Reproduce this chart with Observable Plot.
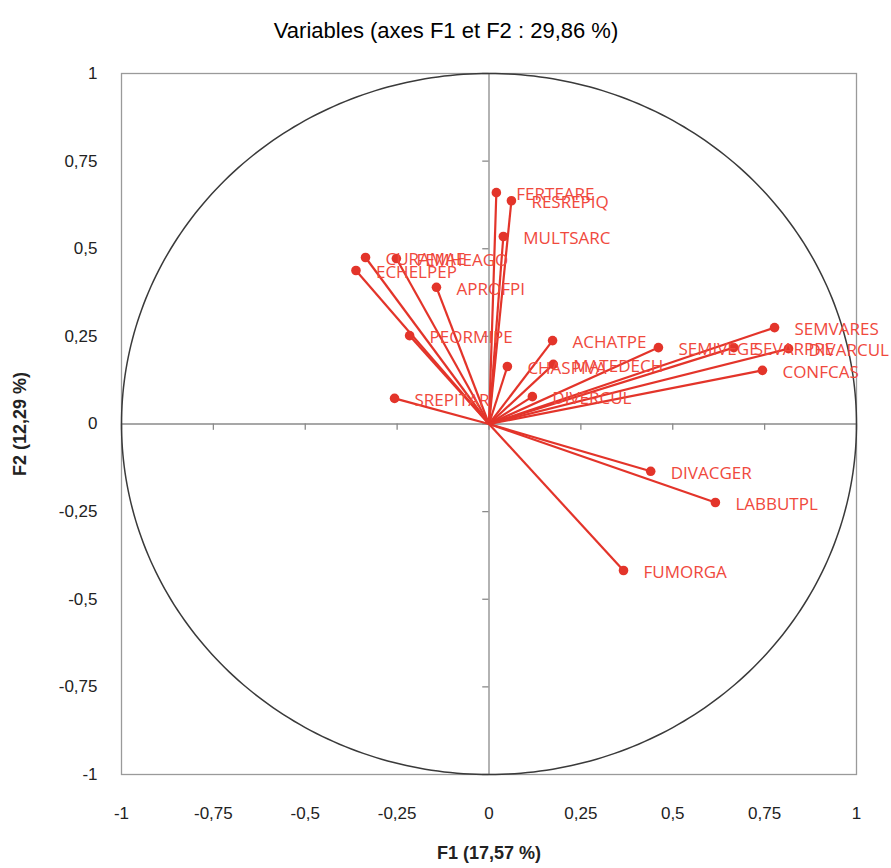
<!DOCTYPE html>
<html><head><meta charset="utf-8">
<script src="https://cdn.jsdelivr.net/npm/d3@7"></script>
<script src="https://cdn.jsdelivr.net/npm/@observablehq/plot@0.6"></script>
<style>body{margin:0;background:#fff}</style>
</head><body><div id="chart"></div>
<script>
const names = ["FERTEARE","RESREPIQ","MULTSARC","CURAMAE","FEMHEAGO","ECHELPEP","APROFPI","PEORMIPE","SREPITAR","ACHATPE","CHASPIVA","MATEDECH","DIVERCUL","SEMIVEGE","SEVARPRE","SEMVARES","DIVARCUL","CONFCAS","DIVACGER","LABBUTPL","FUMORGA"];
const f1 = [0.020, 0.061, 0.039, -0.336, -0.252, -0.362, -0.143, -0.216, -0.257, 0.173, 0.050, 0.175, 0.118, 0.461, 0.666, 0.777, 0.815, 0.744, 0.440, 0.616, 0.366];
const f2 = [0.660, 0.637, 0.535, 0.475, 0.472, 0.438, 0.390, 0.252, 0.073, 0.238, 0.164, 0.170, 0.078, 0.218, 0.218, 0.275, 0.215, 0.153, -0.135, -0.224, -0.418];
const ticks = [-1, -0.75, -0.5, -0.25, 0, 0.25, 0.5, 0.75, 1];
const title = "Variables (axes F1 et F2 : 29,86 %)";
const xTitle = "F1 (17,57 %)";
const yTitle = "F2 (12,29 %)";

const data = names.map((n, i) => ({name: n, f1: f1[i], f2: f2[i]}));
const circle = d3.range(0, 361, 1).map(a => ({x: Math.cos(a * Math.PI / 180), y: Math.sin(a * Math.PI / 180)}));
const fmt = d => String(d).replace(".", ",");
const red = "#e3342a";
const labelRed = "#f0493d";
const sans = "Liberation Sans, Arial, sans-serif";

const chart = Plot.plot({
  width: 891,
  height: 868,
  marginLeft: 121,
  marginRight: 35,
  marginTop: 73,
  marginBottom: 94,
  style: {background: "#fff", overflow: "visible"},
  x: {domain: [-1, 1]},
  y: {domain: [-1, 1]},
  marks: [
    Plot.frame({stroke: "#9a9a9a", strokeWidth: 1.3}),
    Plot.ruleY([0], {stroke: "#8a8a8a", strokeWidth: 1.3}),
    Plot.ruleX([0], {stroke: "#8a8a8a", strokeWidth: 1.3}),
    Plot.ruleX(ticks, {x: d => d, y1: 0, y2: -0.018, stroke: "#8a8a8a", strokeWidth: 1.3}),
    Plot.ruleY(ticks, {y: d => d, x1: -0.017, x2: 0, stroke: "#8a8a8a", strokeWidth: 1.3}),
    Plot.line(circle, {x: "x", y: "y", stroke: "#3a3a3a", strokeWidth: 1.5}),
    Plot.axisX(ticks, {anchor: "bottom", tickSize: 0, tickPadding: 32, tickFormat: fmt, label: null, fontSize: 17, fill: "#222", fontFamily: sans}),
    Plot.axisY(ticks, {anchor: "left", tickSize: 0, tickPadding: 24, tickFormat: fmt, label: null, fontSize: 17, fill: "#222", fontFamily: sans}),
    Plot.link(data, {x1: () => 0, y1: () => 0, x2: "f1", y2: "f2", stroke: red, strokeWidth: 2.2}),
    Plot.dot(data, {x: "f1", y: "f2", r: 4.8, fill: red, stroke: "none"}),
    Plot.text(data, {x: "f1", y: "f2", text: "name", dx: 20, dy: 2, textAnchor: "start", fill: labelRed, fontSize: 17, fontFamily: "Open Sans, sans-serif", style: "letter-spacing:1.5px"}),
    Plot.text([title], {frameAnchor: "top", dx: -43, dy: -51, fontSize: 22, fill: "#000", fontFamily: sans, style: "letter-spacing:0.8px"}),
    Plot.text([xTitle], {frameAnchor: "bottom", textAnchor: "middle", dy: 84, fontSize: 18, fontWeight: "bold", fill: "#222", fontFamily: sans, style: "letter-spacing:0.5px"}),
    Plot.text([yTitle], {frameAnchor: "left", textAnchor: "middle", dx: -101, rotate: -90, fontSize: 18, fontWeight: "bold", fill: "#222", fontFamily: sans, style: "letter-spacing:0.5px"})
  ]
});
document.getElementById("chart").appendChild(chart);
</script>
</body></html>
